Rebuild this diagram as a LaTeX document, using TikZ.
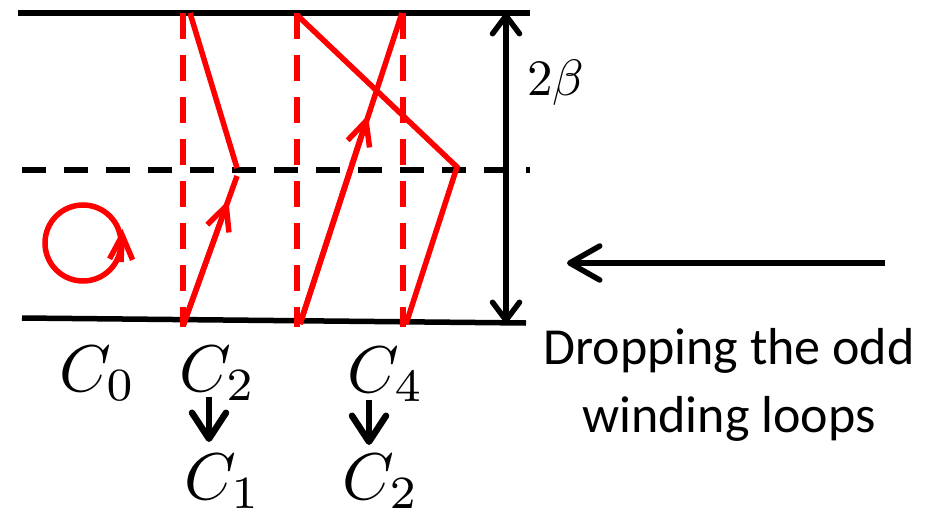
\documentclass[tikz,border=0pt]{standalone}
\usepackage{fontspec}
\newfontfamily\calib{Carlito}
\usetikzlibrary{arrows.meta}
\tikzset{
  blk/.style={line width=5.5pt,black},
  blkdash/.style={line width=5.5pt,black,dash pattern=on 24pt off 18pt},
  reddash/.style={line width=5.5pt,red,dash pattern=on 26pt off 16pt},
  redline/.style={line width=5.5pt,red},
  redtip/.style={-{Straight Barb[length=24pt,width=23pt]}},
  blktip/.style={-{Straight Barb[length=30pt,width=34pt,round]}},
  bigmath/.style={inner sep=0pt,scale=6.6,transform shape},
  medmath/.style={inner sep=0pt,scale=5.1,transform shape},
}
\begin{document}
\begin{tikzpicture}[x=1pt,y=-1pt]
\useasboundingbox (0,0) rectangle (928,514);
% frame lines
\coordinate (tl) at (18,13); \coordinate (tr) at (530,13);
\coordinate (bl) at (22,318); \coordinate (br) at (526,323);
\draw[blk] (tl) -- (tr);
\draw[blk] (bl) -- (br);
\coordinate (ml) at (22,170); \coordinate (mr) at (530,170);
\draw[blkdash] (ml) -- (mr);
% red dashed verticals
\foreach \x/\n in {183/a,297/b,403/c}{
  \coordinate (t\n) at (\x,13); \coordinate (b\n) at (\x,327);
  \draw[reddash] (t\n) -- (b\n);
}
% C2 path
\coordinate (p1) at (183,326); \coordinate (p2) at (237,176);
\coordinate (p1t) at (228.4,200);
\coordinate (p3) at (237,168); \coordinate (p4) at (190,13);
\draw[redline] (p1) -- (p2);
\draw[redline,redtip] (p1) -- (p1t);
\draw[redline] (p3) -- (p4);
% C4 path
\coordinate (q1) at (300,324); \coordinate (q2) at (402,13);
\coordinate (q1t) at (368,115);
\draw[redline] (q1) -- (q2);
\draw[redline,redtip] (q1) -- (q1t);
\coordinate (q3) at (297,15); \coordinate (q4) at (457,167); \coordinate (q5) at (406,324);
\draw[redline,line join=miter] (q3) -- (q4) -- (q5);
% circle
\coordinate (cc) at (83,243);
\draw[redline] (cc) circle[radius=38];
\coordinate (ca) at (121,262); \coordinate (cb) at (122.5,229);
\draw[redline,redtip] (ca) -- (cb);
% vertical double arrow
\coordinate (va) at (506,13); \coordinate (vb) at (506,323);
\draw[blk,{Straight Barb[length=18pt,width=27pt,round]}-{Straight Barb[length=18pt,width=27pt,round]}] (va) -- (vb);
\node[medmath,anchor=base west] (beta) at (526,95) {$2\beta$};
% left arrow
\coordinate (la) at (885,263); \coordinate (lb) at (567,263);
\draw[blk,blktip] (la) -- (lb);
\node[font=\calib\fontsize{52}{68}\selectfont,align=center] (txt) at (729,385) {Dropping the odd\\winding loops};
% labels
\node[bigmath,anchor=base west] (c0) at (58,391) {$C_0$};
\node[bigmath,anchor=base west] (c2) at (178,391) {$C_2$};
\node[bigmath,anchor=base west] (c4) at (346,392) {$C_4$};
\node[bigmath,anchor=base west] (c1) at (183,499) {$C_1$};
\node[bigmath,anchor=base west] (c2b) at (341,499) {$C_2$};
\coordinate (d1a) at (209,397); \coordinate (d1b) at (209,442);
\coordinate (d2a) at (369,400); \coordinate (d2b) at (369,445);
\draw[blk,line width=6.5pt,-{Straight Barb[length=26pt,width=34pt,round]}] (d1a) -- (d1b);
\draw[blk,line width=6.5pt,-{Straight Barb[length=26pt,width=34pt,round]}] (d2a) -- (d2b);
\end{tikzpicture}
\end{document}
